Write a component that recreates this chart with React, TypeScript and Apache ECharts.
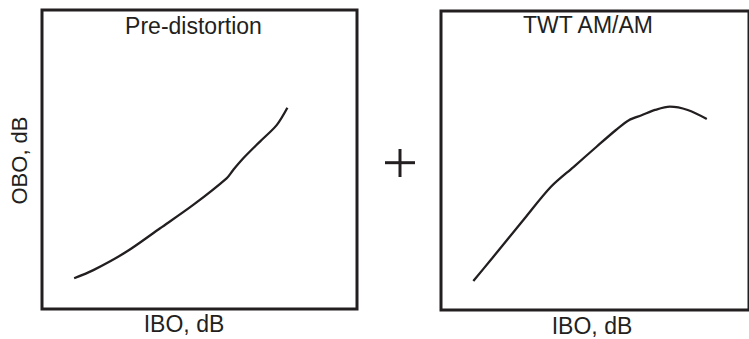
import React, { useEffect, useRef } from "react";
import * as echarts from "echarts";

// Pre-distortion curve (IBO, OBO) in relative units 0..100
const preIbo = [10.2, 16.3, 26.9, 37.5, 48.0, 58.6, 60.7, 63.9, 69.2, 74.5, 77.9];
const preObo = [10.3, 13.0, 19.2, 27.0, 34.8, 43.7, 46.5, 50.4, 56.0, 61.5, 67.3];

// TWT AM/AM curve (IBO, OBO) in relative units 0..100
const twtIbo = [10.5, 16.6, 27.2, 35.7, 43.1, 50.5, 56.8, 61.0, 65.3, 69.5, 74.3, 80.1, 86.3];
const twtObo = [9.7, 17.3, 30.7, 41.2, 47.9, 54.6, 60.2, 63.5, 65.2, 66.9, 68.0, 66.9, 63.9];

const titles = ["Pre-distortion", "TWT AM/AM"];
const xName = "IBO, dB";
const yName = "OBO, dB";

const INK = "#231f20";
const FONT = "Liberation Sans, Arial, Helvetica, sans-serif";

export default function App() {
  const ref = useRef<HTMLDivElement>(null);

  useEffect(() => {
    if (!ref.current) return;
    const chart = echarts.init(ref.current, null, { renderer: "svg" });
    const pairs = (xs: number[], ys: number[]) => xs.map((x, i) => [x, ys[i]]);
    const axisCommon = { type: "value" as const, min: 0, max: 100, show: false };

    const textStyle = (text: string, size: number) => ({
      text,
      fill: INK,
      font: `${size}px ${FONT}`,
      textAlign: "center",
      textVerticalAlign: "middle",
    });

    chart.setOption({
      animation: false,
      backgroundColor: "#ffffff",
      grid: [
        { left: 42, top: 10, width: 315, height: 299, show: true, borderWidth: 3, borderColor: INK, backgroundColor: "transparent" },
        { left: 441, top: 11, width: 315, height: 299, show: true, borderWidth: 3, borderColor: INK, backgroundColor: "transparent" },
      ],
      xAxis: [
        { ...axisCommon, gridIndex: 0 },
        { ...axisCommon, gridIndex: 1 },
      ],
      yAxis: [
        { ...axisCommon, gridIndex: 0 },
        { ...axisCommon, gridIndex: 1 },
      ],
      series: [
        {
          type: "line",
          xAxisIndex: 0,
          yAxisIndex: 0,
          data: pairs(preIbo, preObo),
          smooth: 0.3,
          showSymbol: false,
          lineStyle: { color: INK, width: 2.3 },
        },
        {
          type: "line",
          xAxisIndex: 1,
          yAxisIndex: 1,
          data: pairs(twtIbo, twtObo),
          smooth: 0.3,
          showSymbol: false,
          lineStyle: { color: INK, width: 2.3 },
        },
      ],
      graphic: [
        { type: "text", x: 193.5, y: 26, style: textStyle(titles[0], 23) },
        { type: "text", x: 588, y: 25, style: textStyle(titles[1], 23) },
        { type: "text", x: 184, y: 324, style: textStyle(xName, 23) },
        { type: "text", x: 592, y: 325.5, style: textStyle(xName, 23) },
        { type: "text", x: 19.5, y: 160.5, rotation: Math.PI / 2, style: textStyle(yName, 22) },
        { type: "line", shape: { x1: 385, y1: 162.7, x2: 415, y2: 162.7 }, style: { stroke: INK, lineWidth: 3 } },
        { type: "line", shape: { x1: 400, y1: 149, x2: 400, y2: 177 }, style: { stroke: INK, lineWidth: 3 } },
      ],
    });

    return () => chart.dispose();
  }, []);

  return (
    <div
      ref={ref}
      style={{ position: "fixed", left: 0, top: 0, width: 749, height: 339, background: "#fff" }}
    />
  );
}
